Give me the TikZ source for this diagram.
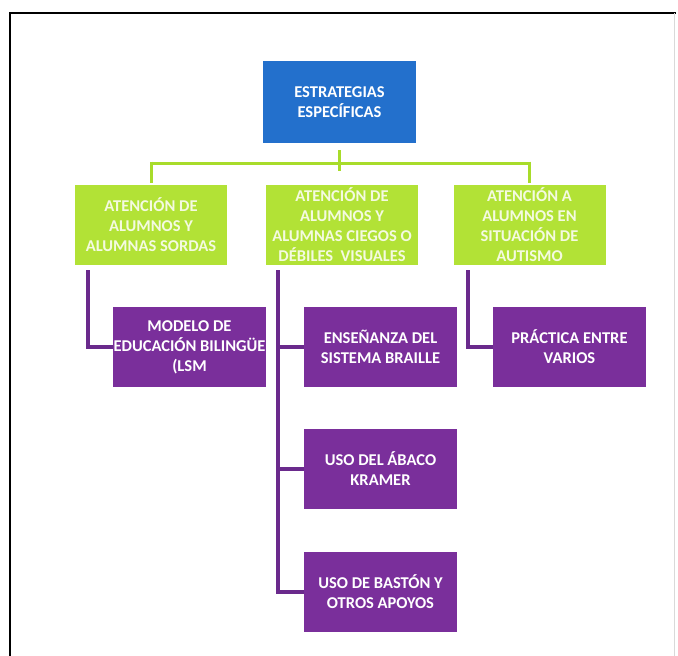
\documentclass[tikz,border=0pt]{standalone}
\usepackage{fontspec}
\setmainfont{Carlito}
\definecolor{cblue}{HTML}{2370CC}
\definecolor{cgreen}{HTML}{B2E236}
\definecolor{cpurple}{HTML}{7A2F9B}
\definecolor{cgtext}{HTML}{F4FAE0}
\definecolor{cline}{HTML}{A8DC2A}
\definecolor{cpline}{HTML}{6A2A8C}
\begin{document}
\begin{tikzpicture}[x=1pt,y=-1pt,
  boxbase/.style={rectangle, inner sep=0pt, align=center, font=\bfseries\fontsize{16.5}{20}\selectfont},
  bluebox/.style={boxbase, fill=cblue, text=white, minimum width=153pt, minimum height=82pt},
  greenbox/.style={boxbase, fill=cgreen, text=cgtext, minimum width=152pt, minimum height=80pt},
  purplebox/.style={boxbase, fill=cpurple, text=white, minimum width=153pt, minimum height=80pt},
  gline/.style={draw=cline, line width=3pt},
  pline/.style={draw=cpline, line width=3.2pt},
]
\useasboundingbox (0,0) rectangle (678,656);
\fill[white] (0,0) rectangle (678,656);
% frame
\draw[line width=2.2pt, black] (10,656) -- (10,13) -- (676,13);
\draw[line width=0.6pt, black!15] (674,13) -- (674,656);

\node[bluebox] (root) at (339.5,102) {ESTRATEGIAS\\ESPECÍFICAS};

\node[greenbox] (g1) at (151,225) {ATENCIÓN DE\\ALUMNOS Y\\ALUMNAS SORDAS};
\node[greenbox] (g2) at (342,225) {ATENCIÓN DE\\ALUMNOS Y\\ALUMNAS CIEGOS O\\DÉBILES\ \ VISUALES};
\node[greenbox] (g3) at (529.5,225) {ATENCIÓN A\\ALUMNOS EN\\SITUACIÓN DE\\AUTISMO};

\node[purplebox] (p1) at (189.5,347) {MODELO DE\\EDUCACIÓN BILINGÜE\\(LSM};
\node[purplebox] (p2) at (380.5,347) {ENSEÑANZA DEL\\SISTEMA BRAILLE};
\node[purplebox] (p3) at (569.5,347) {PRÁCTICA ENTRE\\VARIOS};
\node[purplebox] (p4) at (380.5,469) {USO DEL ÁBACO\\KRAMER};
\node[purplebox] (p5) at (380.5,592) {USO DE BASTÓN Y\\OTROS APOYOS};

% green connectors
\coordinate (hubtop) at (339.5,150);
\coordinate (hub) at (339.5,163);
\coordinate (hubbot) at (339.5,171);
\draw[gline] (hubtop) -- (hubbot);
\draw[gline] (g1.north |- hub) -- (g3.north |- hub);
\draw[gline] ([yshift=1.5pt]g1.north |- hub) -- ([yshift=2pt]g1.north);
\draw[gline] ([yshift=1.5pt]g3.north |- hub) -- ([yshift=2pt]g3.north);

% purple connectors
\coordinate (v1) at (88,270);
\coordinate (v2) at (278,270);
\coordinate (v3) at (468,270);
\draw[pline] (v1) |- (p1.west);
\draw[pline] (v3) |- (p3.west);
\draw[pline] (v2) |- (p5.west);
\draw[pline] (v2 |- p2.west) -- (p2.west);
\draw[pline] (v2 |- p4.west) -- (p4.west);
\end{tikzpicture}
\end{document}
